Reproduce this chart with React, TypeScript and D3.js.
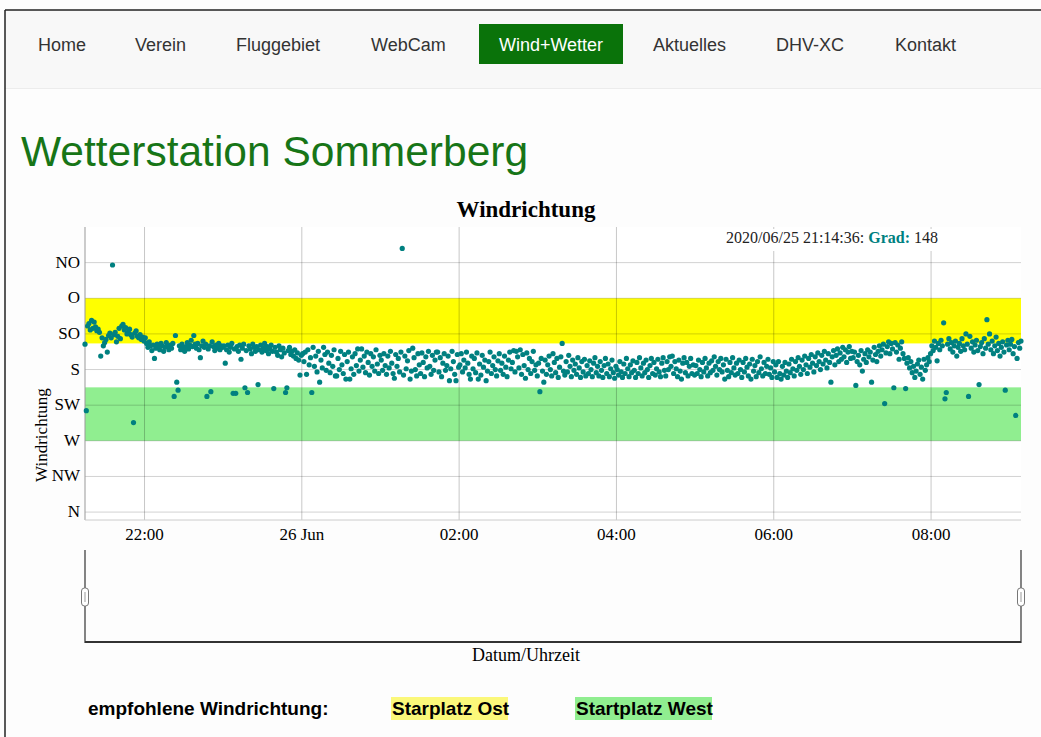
import React from "react";
import * as d3 from "d3";

// first reading of the station, one value per minute after that
const startTime = new Date(2020, 5, 25, 21, 14, 36);

// wind direction in degrees, one array per clock hour
const deg21 = [
  148, 232, 125, 122, 130, 118, 128, 120, 126, 131,
  129, 133, 163, 140, 150, 146, 142, 158, 137, 134,
  140, 48, 136, 133, 145, 138, 128, 141, 125, 123,
  130, 127, 135, 133, 129, 136, 139, 247, 134, 131,
  138, 140, 136, 142, 139, 144,
];
const deg22 = [
  140, 147, 152, 145, 150, 156, 149, 166, 153, 148,
  151, 155, 147, 150, 157, 152, 146, 150, 155, 149,
  153, 147, 214, 137, 196, 206, 150, 155, 148, 152,
  157, 151, 146, 154, 149, 143, 151, 137, 148, 153,
  147, 155, 165, 150, 144, 152, 148, 214, 154, 150,
  208, 145, 151, 156, 149, 153, 147, 155, 150, 152,
];
const deg23 = [
  150, 172, 155, 149, 158, 152, 147, 210, 154, 210,
  151, 157, 149, 167, 153, 148, 203, 156, 209, 150,
  154, 160, 148, 152, 157, 151, 199, 155, 149, 158,
  153, 147, 156, 151, 160, 154, 149, 157, 204, 152,
  158, 162, 150, 155, 164, 153, 159, 209, 203, 156,
  152, 161, 157, 163, 155, 166, 159, 168, 187, 162,
];
const deg00 = [
  160, 170, 158, 186, 155, 174, 165, 209, 152, 176,
  163, 183, 157, 196, 168, 178, 152, 161, 181, 158,
  172, 184, 162, 176, 155, 188, 188, 166, 180, 157,
  174, 185, 161, 192, 170, 158, 192, 179, 164, 186,
  160, 175, 154, 182, 168, 154, 177, 163, 184, 158,
  171, 187, 160, 176, 164, 182, 155, 173, 185, 162,
];
const deg01 = [
  168, 181, 160, 175, 186, 163, 178, 157, 172, 185,
  191, 161, 176, 166, 183, 158, 27, 187, 163, 179,
  169, 156, 192, 182, 153, 165, 180, 188, 160, 174,
  185, 159, 171, 189, 164, 178, 157, 176, 186, 162,
  181, 168, 158, 158, 183, 165, 189, 172, 160, 181,
  175, 163, 194, 179, 157, 170, 186, 194, 161, 177,
];
const deg02 = [
  174, 160, 183, 168, 178, 158, 172, 186, 192, 163,
  179, 166, 184, 159, 192, 173, 187, 162, 177, 168,
  194, 182, 170, 158, 185, 175, 164, 180, 188, 169,
  160, 181, 172, 186, 163, 177, 189, 168, 158, 179,
  171, 156, 183, 157, 164, 178, 155, 186, 161, 175,
  191, 159, 180, 166, 185, 170, 157, 181, 174, 188,
];
const deg03 = [
  172, 208, 166, 182, 196, 168, 186, 174, 163, 180,
  188, 160, 171, 184, 166, 190, 177, 164, 147, 182,
  187, 170, 183, 162, 176, 189, 168, 181, 173, 186,
  165, 178, 190, 170, 183, 167, 188, 175, 185, 169,
  180, 189, 172, 165, 184, 176, 188, 170, 181, 190,
  175, 166, 185, 173, 189, 179, 168, 184, 191, 176,
];
const deg04 = [
  180, 187, 170, 183, 190, 173, 185, 166, 179, 189,
  174, 184, 169, 181, 190, 171, 185, 165, 178, 188,
  172, 184, 168, 180, 190, 175, 166, 185, 171, 187,
  179, 167, 183, 189, 172, 165, 181, 188, 170, 180,
  164, 176, 163, 185, 170, 179, 189, 168, 182, 192,
  172, 165, 184, 171, 188, 176, 166, 185, 174, 187,
];
const deg05 = [
  175, 185, 168, 180, 189, 171, 183, 166, 178, 188,
  172, 184, 169, 181, 164, 176, 187, 170, 180, 166,
  183, 174, 192, 167, 181, 189, 171, 184, 165, 178,
  187, 172, 185, 168, 180, 190, 171, 183, 166, 177,
  188, 173, 192, 167, 182, 175, 189, 170, 184, 164,
  179, 188, 171, 185, 176, 167, 186, 178, 190, 170,
];
const deg06 = [
  183, 174, 190, 170, 185, 192, 176, 187, 171, 182,
  190, 173, 184, 167, 179, 188, 170, 181, 165, 176,
  186, 168, 180, 163, 174, 185, 166, 177, 161, 172,
  183, 164, 175, 159, 170, 180, 162, 173, 157, 168,
  178, 160, 171, 196, 164, 156, 174, 162, 154, 170,
  159, 167, 152, 164, 155, 171, 158, 151, 166, 157,
];
const deg07 = [
  165, 158, 200, 170, 162, 174, 156, 182, 167, 160,
  171, 155, 164, 158, 196, 168, 152, 161, 170, 157,
  150, 163, 155, 148, 223, 159, 151, 145, 160, 147,
  154, 203, 146, 158, 149, 167, 153, 145, 160, 166,
  204, 172, 165, 178, 170, 184, 176, 190, 182, 173,
  168, 186, 177, 192, 167, 181, 174, 165, 170, 160,
];
const deg08 = [
  150, 156, 144, 152, 169, 147, 155, 143, 150, 121,
  217, 209, 148, 141, 154, 146, 158, 150, 144, 163,
  152, 147, 157, 141, 150, 155, 135, 148, 214, 138,
  153, 145, 158, 149, 143, 156, 199, 151, 146, 160,
  141, 153, 117, 148, 135, 155, 144, 160, 150, 139,
  156, 147, 163, 152, 145, 158, 206, 149, 143, 155,
];
const deg09 = [148, 142, 160, 151, 238, 166, 146, 153, 144];

const windDeg = [
  ...deg21, ...deg22, ...deg23, ...deg00, ...deg01, ...deg02,
  ...deg03, ...deg04, ...deg05, ...deg06, ...deg07, ...deg08, ...deg09,
];

const dirLabels = ["NO", "O", "SO", "S", "SW", "W", "NW", "N"];
const dirDegrees = [45, 90, 135, 180, 225, 270, 315, 360];

// recommended wind sectors
const bandNames = ["Starplatz Ost", "Startplatz West"];
const bandFrom = [90, 202.5];
const bandTo = [147, 270];
const bandColors = ["#ffff00", "#90ee90"];
const bandLegendColors = ["#fbf87a", "#90ee90"];

const navItems = ["Home", "Verein", "Fluggebiet", "WebCam", "Wind+Wetter", "Aktuelles", "DHV-XC", "Kontakt"];
const navX = [38, 135, 236, 371, 496, 653, 776, 895];
const activeNav = "Wind+Wetter";

const serif = "'Liberation Serif', 'Times New Roman', serif";
const sans = "'Liberation Sans', Arial, sans-serif";

export default function App() {
  const width = 1041;
  const height = 737;
  const left = 85;
  const right = 1021;
  const top = 227;
  const bottom = 520;

  const data = windDeg.map((d, i) => ({ t: d3.timeMinute.offset(startTime, i), deg: d }));

  const x = d3
    .scaleTime()
    .domain([data[0].t, data[data.length - 1].t])
    .range([left, right]);
  const y = d3.scaleLinear().domain([0, 370]).range([top, bottom]);

  const xTicks = x.ticks(d3.timeHour.every(2));
  const fmtTick = (d: Date) =>
    d.getHours() === 0 ? d3.timeFormat("%d %b")(d) : d3.timeFormat("%H:%M")(d);

  const first = data[0];

  return (
    <svg
      width={width}
      height={height}
      style={{ position: "absolute", left: 0, top: 0, background: "#fdfdfd" }}
    >
      {/* page frame + nav */}
      <rect x={5} y={10} width={width} height={78} fill="#f8f8f8" />
      <line x1={5} x2={width} y1={88.5} y2={88.5} stroke="#ececec" />
      <line x1={5} x2={width} y1={10} y2={10} stroke="#222" strokeWidth={1.5} />
      <line x1={5} x2={5} y1={10} y2={height} stroke="#222" strokeWidth={1.5} />
      {navItems.map((n, i) =>
        n === activeNav ? (
          <g key={n}>
            <rect x={479} y={24} width={144} height={40} fill="#0a730a" />
            <text x={551} y={51} textAnchor="middle" fontFamily={sans} fontSize={18} fill="#fff">
              {n}
            </text>
          </g>
        ) : (
          <text key={n} x={navX[i]} y={51} fontFamily={sans} fontSize={18} fill="#333">
            {n}
          </text>
        )
      )}

      <text x={21} y={166} fontFamily={sans} fontSize={42.5} fill="#177517">
        Wetterstation Sommerberg
      </text>

      {/* chart */}
      <text x={526} y={217} textAnchor="middle" fontFamily={serif} fontWeight="bold" fontSize={23} fill="#000">
        Windrichtung
      </text>

      <rect x={left} y={top} width={right - left} height={bottom - top} fill="#fff" />
      {bandFrom.map((b, i) => (
        <rect
          key={bandNames[i]}
          x={left}
          y={y(b)}
          width={right - left}
          height={y(bandTo[i]) - y(b)}
          fill={bandColors[i]}
        />
      ))}

      {dirDegrees.map((d) => (
        <line key={d} x1={left} x2={right} y1={y(d)} y2={y(d)} stroke="#000" strokeOpacity={0.18} />
      ))}
      {xTicks.map((t) => (
        <line key={+t} x1={x(t)} x2={x(t)} y1={top} y2={bottom} stroke="#000" strokeOpacity={0.22} />
      ))}
      <line x1={left} x2={left} y1={top} y2={bottom} stroke="#999" />
      <line x1={left} x2={right} y1={bottom} y2={bottom} stroke="#ccc" />

      {data.map((d, i) => (
        <circle key={i} cx={x(d.t)} cy={y(d.deg)} r={2.6} fill="#008080" />
      ))}

      {dirDegrees.map((d, i) => (
        <text key={d} x={80} y={y(d) + 5} textAnchor="end" fontFamily={serif} fontSize={17} fill="#000">
          {dirLabels[i]}
        </text>
      ))}
      {xTicks.map((t) => (
        <text key={+t} x={x(t)} y={540} textAnchor="middle" fontFamily={serif} fontSize={17} fill="#000">
          {fmtTick(t)}
        </text>
      ))}

      <text
        transform="translate(47,435) rotate(-90)"
        textAnchor="middle"
        fontFamily={serif}
        fontSize={17}
        fill="#000"
      >
        Windrichtung
      </text>

      {/* legend of the first reading */}
      <rect x={720} y={229} width={right - 720} height={22} fill="#fff" />
      <text x={726} y={243} fontFamily={serif} fontSize={16} fill="#222">
        {d3.timeFormat("%Y/%m/%d %H:%M:%S")(first.t)}:{" "}
        <tspan fontWeight="bold" fill="#008080">
          Grad:
        </tspan>{" "}
        {first.deg}
      </text>

      {/* range selector */}
      <line x1={left} x2={left} y1={550} y2={643} stroke="#333" strokeWidth={1.2} />
      <line x1={right} x2={right} y1={550} y2={643} stroke="#333" strokeWidth={1.2} />
      <line x1={left} x2={right} y1={642} y2={642} stroke="#333" strokeWidth={2} />
      {[left, right].map((hx) => (
        <g key={hx}>
          <rect x={hx - 3.5} y={588} width={7} height={18} rx={3} fill="#fff" stroke="#777" />
          <line x1={hx} x2={hx} y1={592} y2={602} stroke="#999" />
        </g>
      ))}
      <text x={526} y={661} textAnchor="middle" fontFamily={serif} fontSize={18} fill="#000">
        Datum/Uhrzeit
      </text>

      {/* recommended direction legend */}
      <text x={88} y={715} fontFamily={sans} fontWeight="bold" fontSize={19} fill="#000">
        empfohlene Windrichtung:
      </text>
      {bandNames.map((n, i) => {
        const bx = i === 0 ? 391 : 575;
        const bw = i === 0 ? 117 : 137;
        return (
          <g key={n}>
            <rect x={bx} y={697} width={bw} height={23} fill={bandLegendColors[i]} />
            <text x={bx + 1} y={715} fontFamily={sans} fontWeight="bold" fontSize={19} fill="#000">
              {n}
            </text>
          </g>
        );
      })}
    </svg>
  );
}
